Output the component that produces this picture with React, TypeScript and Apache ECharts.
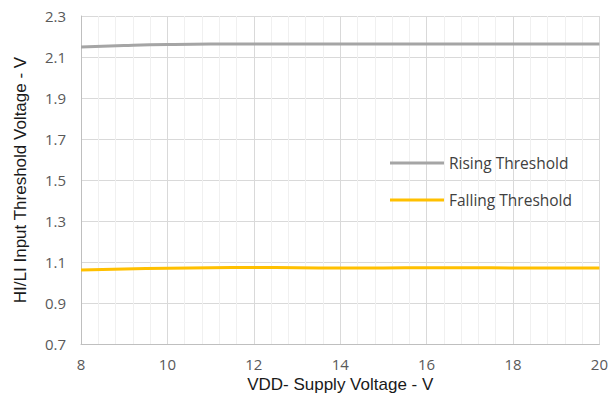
import React, { useEffect, useRef } from "react";
import * as echarts from "echarts";

const supplyVoltage = [8, 9, 10, 11, 12, 13, 14, 15, 16, 17, 18, 19, 20];
const risingThreshold = [2.149, 2.156, 2.161, 2.163, 2.163, 2.163, 2.163, 2.163, 2.163, 2.163, 2.163, 2.163, 2.163];
const fallingThreshold = [1.061, 1.066, 1.07, 1.072, 1.073, 1.072, 1.071, 1.071, 1.072, 1.072, 1.071, 1.071, 1.071];
const yBase = 0.7;
const yTop = 2.3;

const tickFont = "'Open Sans', 'Liberation Sans', sans-serif";
const titleFont = "'Liberation Sans', Arial, sans-serif";

export default function App() {
  const ref = useRef<HTMLDivElement>(null);
  useEffect(() => {
    if (!ref.current) return;
    const chart = echarts.init(ref.current, undefined, { renderer: "svg" });
    const toPts = (ys: number[]) => supplyVoltage.map((x, i) => [x, +(ys[i] - yBase).toFixed(4)]);
    chart.setOption({
      animation: false,
      backgroundColor: "#ffffff",
      grid: { left: 81, right: 10, top: 16, bottom: 64, containLabel: false },
      legend: {
        orient: "vertical",
        left: 385,
        top: 150,
        itemWidth: 54,
        itemHeight: 3,
        itemGap: 21,
        icon: "rect",
        textStyle: { fontFamily: tickFont, fontSize: 15.5, color: "#404040", padding: [0, 0, 0, 0] },
        data: ["Rising Threshold", "Falling Threshold"],
      },
      xAxis: {
        type: "value",
        min: 8,
        max: 20,
        interval: 2,
        name: "VDD- Supply Voltage - V",
        nameLocation: "middle",
        nameGap: 31,
        nameTextStyle: { fontFamily: titleFont, fontSize: 17, color: "#1a1a1a" },
        axisLine: { show: true, lineStyle: { color: "#BFBFBF", width: 1 } },
        axisTick: { show: false },
        axisLabel: { fontFamily: tickFont, fontSize: 15, color: "#595959", margin: 12 },
        splitLine: { show: true, lineStyle: { color: "#D9D9D9", width: 1 } },
        minorTick: { show: false, splitNumber: 5 },
        minorSplitLine: { show: true, lineStyle: { color: "#F0F0F0", width: 1 } },
      },
      yAxis: {
        type: "value",
        min: 0,
        max: +(yTop - yBase).toFixed(4),
        interval: 0.2,
        name: "HI/LI Input Threshold Voltage - V",
        nameLocation: "middle",
        nameGap: 52,
        nameTextStyle: { fontFamily: titleFont, fontSize: 17, color: "#1a1a1a" },
        axisLine: { show: true, lineStyle: { color: "#BFBFBF", width: 1 } },
        axisTick: { show: false },
        axisLabel: {
          fontFamily: tickFont,
          fontSize: 15,
          color: "#595959",
          margin: 15,
          formatter: (v: number) => (v + yBase).toFixed(1),
        },
        splitLine: { show: true, lineStyle: { color: "#D9D9D9", width: 1 } },
      },
      series: [
        {
          name: "Rising Threshold",
          type: "line",
          data: toPts(risingThreshold),
          showSymbol: false,
          smooth: true,
          lineStyle: { color: "#A5A5A5", width: 3 },
          itemStyle: { color: "#A5A5A5" },
        },
        {
          name: "Falling Threshold",
          type: "line",
          data: toPts(fallingThreshold),
          showSymbol: false,
          smooth: true,
          lineStyle: { color: "#FFC000", width: 3 },
          itemStyle: { color: "#FFC000" },
        },
      ],
    });
    return () => chart.dispose();
  }, []);
  return <div ref={ref} style={{ width: 611, height: 408, position: "absolute", left: 0, top: 0 }} />;
}
